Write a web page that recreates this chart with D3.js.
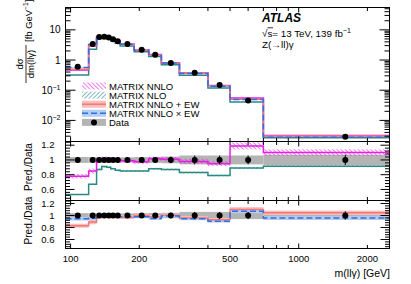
<!DOCTYPE html>
<html>
<head>
<meta charset="utf-8">
<script src="https://cdn.jsdelivr.net/npm/d3@7"></script>
<style>
  body { margin: 0; background: #ffffff; }
  svg text { font-family: "Liberation Sans", Arial, Helvetica, sans-serif; fill: #000; }
</style>
</head>
<body>
<svg id="chart" width="411" height="284"></svg>
<script>
////////////////////////////////////////////////////////////////////////
// m(llgamma) differential cross section, data vs MATRIX predictions
////////////////////////////////////////////////////////////////////////

// bin edges in GeV
var binEdges = [95, 120, 130, 137, 144, 150, 157, 165, 190, 220, 250, 300, 400, 500, 700, 2500];

// measured cross section [fb/GeV] and its relative uncertainty
var dataXsec   = [0.60, 3.4, 5.8, 5.9, 5.6, 4.9, 4.2, 3.4, 2.2, 1.5, 0.80, 0.38, 0.15, 0.046, 0.0029];
var dataRelErr = [0.04, 0.04, 0.035, 0.035, 0.035, 0.035, 0.035, 0.035, 0.04, 0.04, 0.045, 0.06, 0.06, 0.06, 0.07];

// predictions
var nnloRatio   = [0.78, 0.85, 1.01, 1.02, 1.01, 1.00, 1.00, 0.99, 0.975, 1.015, 1.01, 0.98, 0.95, 1.19, 1.10];
var nnloRelErr  = [0.04, 0.04, 0.03, 0.03, 0.03, 0.03, 0.03, 0.03, 0.03, 0.03, 0.03, 0.035, 0.035, 0.04, 0.04];
var nloRatio    = [0.53, 0.67, 0.87, 0.91, 0.90, 0.88, 0.86, 0.85, 0.85, 0.88, 0.87, 0.83, 0.79, 0.89, 0.915];
var nloRelErr   = [0.015, 0.015, 0.015, 0.015, 0.015, 0.015, 0.015, 0.015, 0.015, 0.015, 0.015, 0.015, 0.015, 0.015, 0.015];
var plusEwRatio  = [0.83, 0.89, 0.97, 0.98, 0.98, 0.98, 0.97, 0.97, 1.00, 0.98, 1.005, 0.96, 0.93, 1.10, 1.045];
var plusEwRelErr = [0.04, 0.04, 0.03, 0.03, 0.03, 0.03, 0.03, 0.03, 0.03, 0.03, 0.03, 0.03, 0.03, 0.035, 0.035];
var timesEwRatio  = [0.945, 0.955, 0.99, 0.99, 0.99, 0.99, 0.98, 0.98, 0.98, 0.95, 0.99, 0.945, 0.905, 1.07, 0.96];
var timesEwRelErr = [0.03, 0.03, 0.025, 0.025, 0.025, 0.025, 0.025, 0.025, 0.025, 0.025, 0.025, 0.025, 0.025, 0.03, 0.03];

// tick labels
var xTickLabels   = [100, 200, 500, 1000, 2000];
var mainTickExps  = [-2, -1, 0, 1];
var ratioTickVals = [0.6, 0.8, 1, 1.2];

var legendLabels = ["MATRIX NNLO", "MATRIX NLO", "MATRIX NNLO + EW", "MATRIX NNLO \u00d7 EW", "Data"];

var colMagenta = "#e61ee6";
var colTeal    = "#2a8a84";
var colRed     = "#f07878";
var colRedBand = "#fbbcbc";
var colBlue    = "#2f6fe0";
var colBlueBand= "#b3cdf3";
var colGrey    = "#b4b4b4";


////////////////////////////////////////////////////////////////////////
//
// Will initialize
//
////////////////////////////////////////////////////////////////////////
function init()
  {
  var svg = d3.select("#chart");

  var left = 65.5, right = 389.5;
  var pads =
    {
    main: {top: 7.5,   bottom: 141.5},
    r1:   {top: 141.5, bottom: 200.5},
    r2:   {top: 200.5, bottom: 248.5}
    };

  var x = d3.scaleLog().domain([binEdges[0], binEdges[binEdges.length - 1]]).range([left, right]);
  var yMain = d3.scaleLog().domain([0.002, 55]).range([pads.main.bottom, pads.main.top]);
  var yR1 = d3.scaleLinear().domain([0.45, 1.25]).range([pads.r1.bottom, pads.r1.top]);
  var yR2 = d3.scaleLinear().domain([0.45, 1.25]).range([pads.r2.bottom, pads.r2.top]);

  makePatterns(svg);

  //clip paths for each pad
  var defs = svg.select("defs");
  Object.keys(pads).forEach(function(k)
    {
    defs.append("clipPath").attr("id", "clip-" + k)
      .append("rect")
      .attr("x", left).attr("y", pads[k].top)
      .attr("width", right - left).attr("height", pads[k].bottom - pads[k].top);
    });

  //---- main pad ----
  var gMain = svg.append("g").attr("clip-path", "url(#clip-main)");
  var scaled = function(r) { return r.map(function(v, i) { return v * dataXsec[i]; }); };

  drawBand(gMain, x, yMain, scaled(nloRatio), nloRelErr, "url(#hatchTeal)");
  drawBand(gMain, x, yMain, scaled(nnloRatio), nnloRelErr, "url(#hatchMagenta)");
  drawBand(gMain, x, yMain, scaled(plusEwRatio), plusEwRelErr, colRedBand);
  drawBand(gMain, x, yMain, scaled(timesEwRatio), timesEwRelErr, colBlueBand);
  drawStep(gMain, x, yMain, scaled(nloRatio), colTeal, 1.5, null);
  drawStep(gMain, x, yMain, scaled(nnloRatio), colMagenta, 1.5, null);
  drawStep(gMain, x, yMain, scaled(plusEwRatio), colRed, 1.5, null);
  drawStep(gMain, x, yMain, scaled(timesEwRatio), colBlue, 1.5, "6,3");
  drawPoints(gMain, x, yMain, dataXsec, dataRelErr);

  //---- ratio pad 1 : NNLO, NLO ----
  var gR1 = svg.append("g").attr("clip-path", "url(#clip-r1)");
  drawBand(gR1, x, yR1, dataXsec.map(function() { return 1; }), dataRelErr, colGrey);
  drawBand(gR1, x, yR1, nloRatio, nloRelErr, "url(#hatchTeal)");
  drawBand(gR1, x, yR1, nnloRatio, nnloRelErr, "url(#hatchMagenta)");
  drawStep(gR1, x, yR1, nloRatio, colTeal, 1.5, null);
  drawStep(gR1, x, yR1, nnloRatio, colMagenta, 1.5, null);
  drawPoints(gR1, x, yR1, dataXsec.map(function() { return 1; }), dataRelErr);

  //---- ratio pad 2 : NNLO+EW, NNLOxEW ----
  var gR2 = svg.append("g").attr("clip-path", "url(#clip-r2)");
  drawBand(gR2, x, yR2, dataXsec.map(function() { return 1; }), dataRelErr, colGrey);
  drawBand(gR2, x, yR2, plusEwRatio, plusEwRelErr, colRedBand);
  drawBand(gR2, x, yR2, timesEwRatio, timesEwRelErr, colBlueBand);
  drawStep(gR2, x, yR2, plusEwRatio, colRed, 1.5, null);
  drawStep(gR2, x, yR2, timesEwRatio, colBlue, 1.5, "6,3");
  drawPoints(gR2, x, yR2, dataXsec.map(function() { return 1; }), dataRelErr);

  //---- frames and axes ----
  drawFrameLog(svg, x, yMain, pads.main, left, right);
  drawFrameRatio(svg, x, yR1, pads.r1, left, right);
  drawFrameRatio(svg, x, yR2, pads.r2, left, right);
  drawXLabels(svg, x, pads.r2.bottom);

  drawTexts(svg);
  drawLegend(svg);
  }


////////////////////////////////////////////////////////////////////////
//
// Hatch patterns for the fixed-order bands
//
////////////////////////////////////////////////////////////////////////
function makePatterns(svg)
  {
  var defs = svg.append("defs");

  defs.append("pattern").attr("id", "hatchMagenta")
    .attr("patternUnits", "userSpaceOnUse").attr("width", 3).attr("height", 3)
    .attr("patternTransform", "rotate(-45)")
    .append("line").attr("x1", 0).attr("y1", 0).attr("x2", 0).attr("y2", 3)
    .attr("stroke", colMagenta).attr("stroke-width", 1.2);

  defs.append("pattern").attr("id", "hatchTeal")
    .attr("patternUnits", "userSpaceOnUse").attr("width", 3).attr("height", 3)
    .attr("patternTransform", "rotate(45)")
    .append("line").attr("x1", 0).attr("y1", 0).attr("x2", 0).attr("y2", 3)
    .attr("stroke", colTeal).attr("stroke-width", 1.2);
  }


////////////////////////////////////////////////////////////////////////
//
// One rectangle per bin, centre*(1 +- relErr)
//
////////////////////////////////////////////////////////////////////////
function drawBand(g, x, y, centre, relErr, fill)
  {
  g.append("g").selectAll("rect")
    .data(centre)
    .enter()
    .append("rect")
    .attr("x", function(d, i) { return x(binEdges[i]); })
    .attr("width", function(d, i) { return x(binEdges[i + 1]) - x(binEdges[i]); })
    .attr("y", function(d, i) { return y(d * (1 + relErr[i])); })
    .attr("height", function(d, i) { return y(d * (1 - relErr[i])) - y(d * (1 + relErr[i])); })
    .attr("fill", fill);
  }


////////////////////////////////////////////////////////////////////////
//
// Histogram outline
//
////////////////////////////////////////////////////////////////////////
function drawStep(g, x, y, values, colour, width, dash)
  {
  var pts = values.map(function(v, i) { return [binEdges[i], v]; });
  pts.push([binEdges[binEdges.length - 1], values[values.length - 1]]);

  var line = d3.line()
    .x(function(d) { return x(d[0]); })
    .y(function(d) { return y(d[1]); })
    .curve(d3.curveStepAfter);

  g.append("path")
    .attr("d", line(pts))
    .attr("fill", "none")
    .attr("stroke", colour)
    .attr("stroke-width", width)
    .attr("stroke-dasharray", dash);
  }


////////////////////////////////////////////////////////////////////////
//
// Data points at bin centres
//
////////////////////////////////////////////////////////////////////////
function drawPoints(g, x, y, values, relErr)
  {
  var centre = function(i) { return x((binEdges[i] + binEdges[i + 1]) / 2); };

  g.append("g").selectAll("line")
    .data(values)
    .enter()
    .append("line")
    .attr("x1", function(d, i) { return centre(i); })
    .attr("x2", function(d, i) { return centre(i); })
    .attr("y1", function(d, i) { return y(d * (1 + relErr[i])); })
    .attr("y2", function(d, i) { return y(d * (1 - relErr[i])); })
    .attr("stroke", "#000").attr("stroke-width", 1);

  g.append("g").selectAll("circle")
    .data(values)
    .enter()
    .append("circle")
    .attr("cx", function(d, i) { return centre(i); })
    .attr("cy", function(d) { return y(d); })
    .attr("r", 3)
    .attr("fill", "#000");
  }


////////////////////////////////////////////////////////////////////////
//
// Ticks along x on top and bottom of a pad
//
////////////////////////////////////////////////////////////////////////
function drawXTicks(svg, x, pad)
  {
  var ticks = [];
  for(var v = 100; v < 1000; v += 100) ticks.push(v);
  ticks.push(1000, 2000);

  var g = svg.append("g");
  ticks.forEach(function(t)
    {
    var len = (t === 100 || t === 1000) ? 5 : 3.5;
    g.append("line").attr("x1", x(t)).attr("x2", x(t))
      .attr("y1", pad.bottom).attr("y2", pad.bottom - len).attr("stroke", "#000");
    g.append("line").attr("x1", x(t)).attr("x2", x(t))
      .attr("y1", pad.top).attr("y2", pad.top + len).attr("stroke", "#000");
    });
  }


////////////////////////////////////////////////////////////////////////
//
// Frame of the main pad with log y axis
//
////////////////////////////////////////////////////////////////////////
function drawFrameLog(svg, x, y, pad, left, right)
  {
  var g = svg.append("g");

  g.append("rect").attr("x", left).attr("y", pad.top)
    .attr("width", right - left).attr("height", pad.bottom - pad.top)
    .attr("fill", "none").attr("stroke", "#000");

  drawXTicks(svg, x, pad);

  for(var e = -3; e <= 1; e++)
    {
    for(var m = 1; m <= 9; m++)
      {
      var v = m * Math.pow(10, e);
      if(v < y.domain()[0] || v > y.domain()[1]) continue;
      var len = (m === 1) ? 10 : 5;
      g.append("line").attr("x1", left).attr("x2", left + len)
        .attr("y1", y(v)).attr("y2", y(v)).attr("stroke", "#000");
      g.append("line").attr("x1", right).attr("x2", right - len)
        .attr("y1", y(v)).attr("y2", y(v)).attr("stroke", "#000");
      }
    }

  mainTickExps.forEach(function(e)
    {
    var t = g.append("text")
      .attr("x", 60.5)
      .attr("y", y(Math.pow(10, e)) + 3.5)
      .attr("text-anchor", "end")
      .style("font-size", "10px");
    if(e === 0) t.text("1");
    else if(e === 1) t.text("10");
    else
      {
      t.append("tspan").text("10");
      t.append("tspan").attr("dy", -4).style("font-size", "7px").text("\u2212" + (-e));
      }
    });
  }


////////////////////////////////////////////////////////////////////////
//
// Frame of a ratio pad
//
////////////////////////////////////////////////////////////////////////
function drawFrameRatio(svg, x, y, pad, left, right)
  {
  var g = svg.append("g");

  g.append("rect").attr("x", left).attr("y", pad.top)
    .attr("width", right - left).attr("height", pad.bottom - pad.top)
    .attr("fill", "none").attr("stroke", "#000");

  drawXTicks(svg, x, pad);

  for(var k = 12; k <= 31; k++)
    {
    var v = k * 0.04;
    if(v < y.domain()[0] || v > y.domain()[1]) continue;
    var major = Math.abs(v * 5 - Math.round(v * 5)) < 1e-6;
    var len = major ? 9 : 4.5;
    g.append("line").attr("x1", left).attr("x2", left + len)
      .attr("y1", y(v)).attr("y2", y(v)).attr("stroke", "#000");
    g.append("line").attr("x1", right).attr("x2", right - len)
      .attr("y1", y(v)).attr("y2", y(v)).attr("stroke", "#000");
    }

  ratioTickVals.forEach(function(v)
    {
    g.append("text")
      .attr("x", 54.5)
      .attr("y", y(v) + 3.3)
      .attr("text-anchor", "end")
      .style("font-size", "9.5px")
      .text(v === 1 ? "1" : v.toFixed(1));
    });

  g.append("text")
    .attr("transform", "translate(32," + ((pad.top + pad.bottom) / 2 - 4) + ") rotate(-90)")
    .attr("text-anchor", "middle")
    .style("font-size", "10px")
    .text("Pred./Data");
  }


////////////////////////////////////////////////////////////////////////
//
// x tick labels below the last pad
//
////////////////////////////////////////////////////////////////////////
function drawXLabels(svg, x, bottom)
  {
  svg.append("g").selectAll("text")
    .data(xTickLabels)
    .enter()
    .append("text")
    .attr("x", function(d) { return x(d); })
    .attr("y", bottom + 13)
    .attr("text-anchor", "middle")
    .style("font-size", "9.5px")
    .text(function(d) { return d; });

  svg.append("text")
    .attr("x", 390).attr("y", 277)
    .attr("text-anchor", "end")
    .style("font-size", "10.5px")
    .text("m(ll\u03b3) [GeV]");
  }


////////////////////////////////////////////////////////////////////////
//
// ATLAS label and the y title of the main pad
//
////////////////////////////////////////////////////////////////////////
function drawTexts(svg)
  {
  svg.append("text")
    .attr("x", 262).attr("y", 22)
    .style("font-size", "12px").style("font-weight", "bold").style("font-style", "italic")
    .text("ATLAS");

  var t = svg.append("text").attr("x", 262).attr("y", 37).style("font-size", "9.8px");
  t.append("tspan").text("\u221as= 13 TeV, 139 fb");
  t.append("tspan").attr("dy", -4).style("font-size", "7px").text("\u22121");
  svg.append("line").attr("x1", 267.5).attr("x2", 273).attr("y1", 27.8).attr("y2", 27.8)
    .attr("stroke", "#000").attr("stroke-width", 0.8);

  svg.append("text").attr("x", 262).attr("y", 47.5).style("font-size", "9.8px")
    .text("Z(\u2192ll)\u03b3");

  //y title: fraction dsigma / dm(llgamma) followed by units
  var g = svg.append("g").attr("transform", "translate(26,85) rotate(-90)");
  g.append("text").attr("x", 21).attr("y", -3).attr("text-anchor", "middle")
    .style("font-size", "9.5px").text("d\u03c3");
  g.append("line").attr("x1", 2).attr("x2", 40).attr("y1", 0).attr("y2", 0)
    .attr("stroke", "#000").attr("stroke-width", 0.8);
  g.append("text").attr("x", 21).attr("y", 8).attr("text-anchor", "middle")
    .style("font-size", "9.5px").text("dm(ll\u03b3)");
  var u = g.append("text").attr("x", 43).attr("y", 6).style("font-size", "9.5px");
  u.append("tspan").text("[fb GeV");
  u.append("tspan").attr("dy", -4).style("font-size", "6.5px").text("\u22121");
  u.append("tspan").attr("dy", 4).text("]");
  }


////////////////////////////////////////////////////////////////////////
//
// Legend: symbols, then one text block holding all the entries
//
////////////////////////////////////////////////////////////////////////
function drawLegend(svg)
  {
  var x0 = 82, w = 24, h = 7, y0 = 86, dy = 9.1;
  var g = svg.append("g");

  legendLabels.forEach(function(lab, i)
    {
    var yc = y0 + i * dy;
    if(i === 0 || i === 1)
      {
      g.append("rect").attr("x", x0).attr("y", yc - h / 2).attr("width", w).attr("height", h)
        .attr("fill", i === 0 ? "url(#hatchMagenta)" : "url(#hatchTeal)");
      }
    else if(i === 2 || i === 3)
      {
      g.append("rect").attr("x", x0).attr("y", yc - h / 2).attr("width", w).attr("height", h)
        .attr("fill", i === 2 ? colRedBand : colBlueBand);
      g.append("line").attr("x1", x0).attr("x2", x0 + w).attr("y1", yc).attr("y2", yc)
        .attr("stroke", i === 2 ? colRed : colBlue).attr("stroke-width", 1.5)
        .attr("stroke-dasharray", i === 3 ? "6,3" : null);
      }
    else
      {
      g.append("rect").attr("x", x0).attr("y", yc - h / 2).attr("width", w).attr("height", h)
        .attr("fill", colGrey);
      g.append("circle").attr("cx", x0 + w / 2).attr("cy", yc).attr("r", 3).attr("fill", "#000");
      }
    });

  var txt = g.append("text").style("font-size", "9.5px");
  legendLabels.forEach(function(lab, i)
    {
    txt.append("tspan")
      .attr("x", x0 + w + 3)
      .attr("y", y0 + i * dy + 3.5)
      .text(lab);
    });
  }

init();
</script>
</body>
</html>
